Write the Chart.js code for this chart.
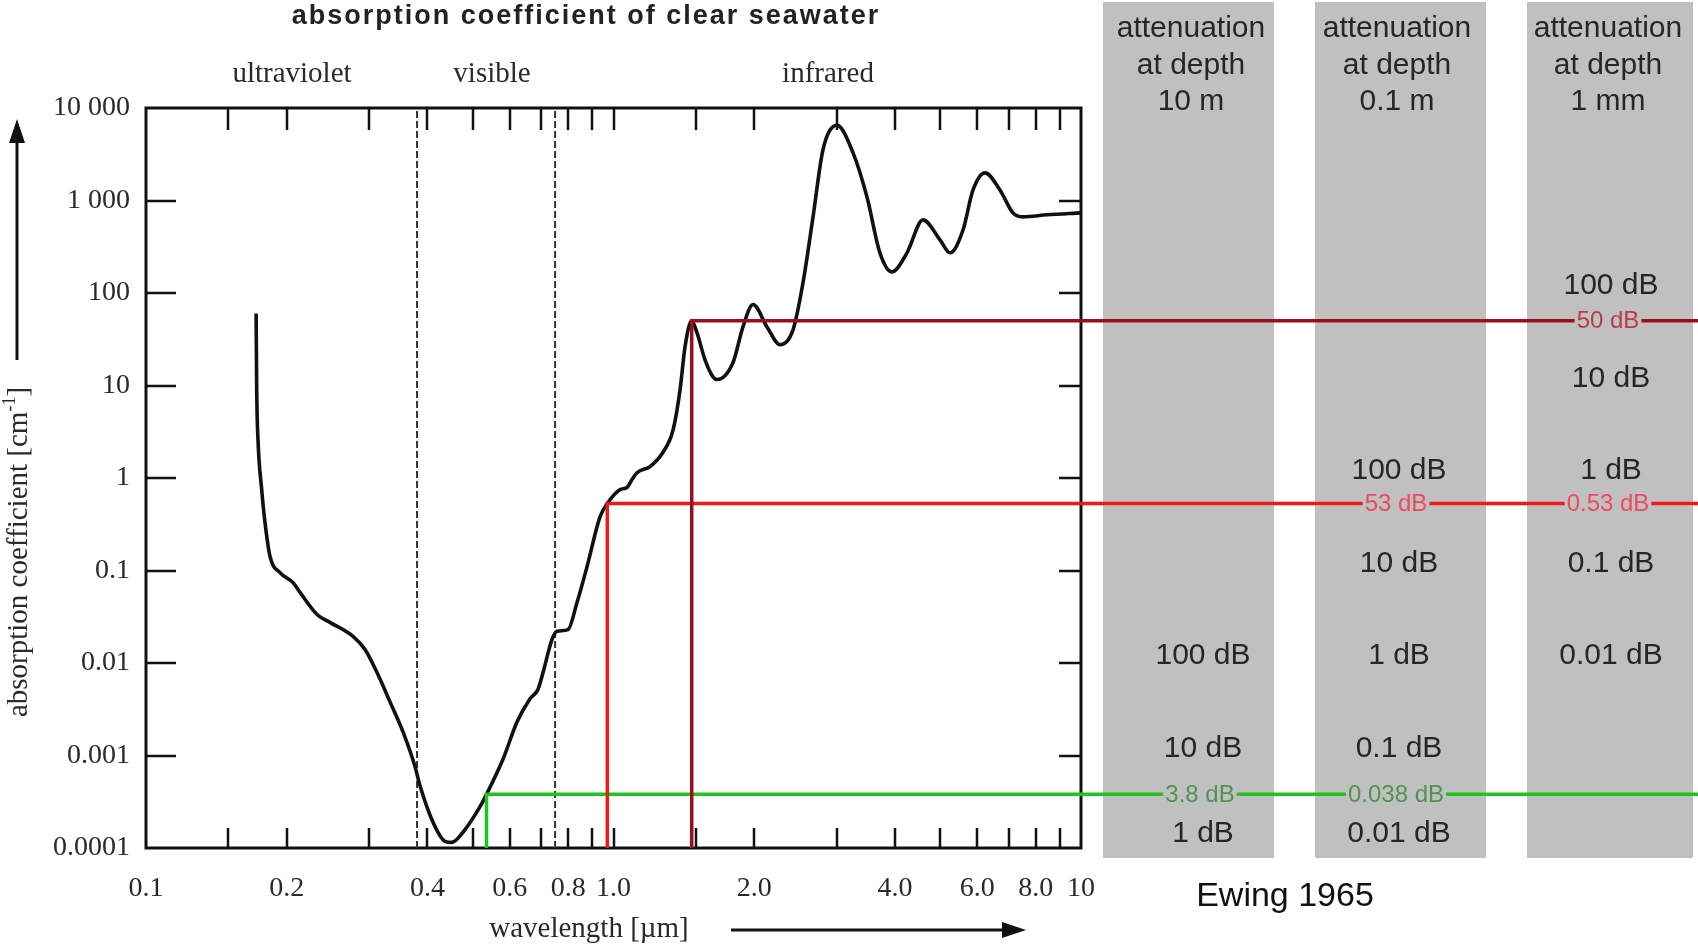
<!DOCTYPE html>
<html>
<head>
<meta charset="utf-8">
<title>absorption coefficient of clear seawater</title>
<script src="https://cdn.jsdelivr.net/npm/chart.js@4/dist/chart.umd.min.js"></script>
<style>
  html, body { margin: 0; padding: 0; background: #fff; }
  #wrap { width: 1698px; height: 945px; position: relative; }
  canvas { display: block; }
</style>
</head>
<body>
<div id="wrap"><canvas id="chart" width="1698" height="945"></canvas></div>
<script>
// Absorption spectrum of clear seawater (Ewing 1965): wavelength in µm, coefficient in cm^-1
const wavelength = [0.172, 0.1725, 0.1736, 0.1768, 0.1797, 0.1842, 0.1935, 0.2063, 0.2135, 0.2322,
  0.2475, 0.2772, 0.2941, 0.312, 0.3326, 0.3546, 0.3762, 0.3856, 0.4111, 0.4361,
  0.4513, 0.4765, 0.5182, 0.535, 0.5802, 0.6217, 0.663, 0.6896, 0.7068, 0.7388,
  0.7572, 0.7993, 0.8355, 0.8777, 0.9357, 0.97, 1.033, 1.069, 1.095, 1.123,
  1.197, 1.276, 1.341, 1.388, 1.422, 1.47, 1.509, 1.569, 1.632, 1.665,
  1.801, 1.892, 1.988, 2.13, 2.271, 2.421, 2.543, 2.672, 2.806, 3.007,
  3.254, 3.485, 3.716, 3.941, 4.244, 4.592, 4.994, 5.246, 5.592, 5.875,
  6.233, 6.708, 7.152, 7.51, 8.458, 10];
const absorption = [60, 9.0, 2.6, 0.75, 0.33, 0.142, 0.095, 0.074, 0.058, 0.0335,
  0.0275, 0.0194, 0.014, 0.0079, 0.0038, 0.0018, 0.00076, 0.00047, 0.00019, 0.000118,
  0.000115, 0.000148, 0.00028, 0.00038, 0.00091, 0.0023, 0.0041, 0.0052, 0.0079, 0.018,
  0.022, 0.023, 0.045, 0.11, 0.38, 0.53, 0.75, 0.79, 0.96, 1.14,
  1.33, 1.9, 3.3, 9, 26, 50, 37, 19, 12.4, 11.6,
  17.6, 43, 75, 43, 27.6, 40, 129, 665, 3540, 6500,
  3270, 1090, 270, 169, 272, 617, 375, 272, 480, 1300,
  1990, 1300, 735, 665, 700, 735];

// Axis ticks
const xTickValues = [0.1, 0.2, 0.4, 0.6, 0.8, 1, 2, 4, 6, 8, 10];
const xTickLabels = ['0.1', '0.2', '0.4', '0.6', '0.8', '1.0', '2.0', '4.0', '6.0', '8.0', '10'];
const xMinorTicks = [0.15, 0.2, 0.3, 0.4, 0.5, 0.6, 0.7, 0.8, 0.9, 1, 1.5, 2, 3, 4, 5, 6, 7, 8, 9];
const yTickValues = [10000, 1000, 100, 10, 1, 0.1, 0.01, 0.001, 0.0001];
const yTickLabels = ['10 000', '1 000', '100', '10', '1', '0.1', '0.01', '0.001', '0.0001'];

// Visible band limits (µm) and band names
const visibleBounds = [0.38, 0.75];
const regionNames = ['ultraviolet', 'visible', 'infrared'];

// Attenuation columns: depth names, depth in cm, scale marks in dB
const depthNames = ['10 m', '0.1 m', '1 mm'];
const depthCm = [1000, 10, 0.1];
const scaleDb = [[100, 10, 1], [100, 10, 1, 0.1, 0.01], [100, 10, 1, 0.1, 0.01]];

// Marked wavelengths: green light, ~1 µm, 1.47 µm water band
const markerWavelength = [0.535, 0.97, 1.47];
const markerAbsorption = [3.8e-4, 0.53, 50];
const markerColors = ['#20c420', '#ee1a1a', '#9b0f1c'];
const markerLabelColors = ['#4f9550', '#ef4860', '#b83c4e'];
const markerLabels = [['3.8 dB', '0.038 dB', null], [null, '53 dB', '0.53 dB'], [null, null, '50 dB']];

const SERIF = '"Liberation Serif", "Times New Roman", serif';
const SANS = '"Liberation Sans", Arial, sans-serif';
const X_FAR = 250; // beyond the right edge of the page

const COLS = [
  { left: 1103, width: 171, head: 1191, label: 1203 },
  { left: 1315, width: 171, head: 1397, label: 1399 },
  { left: 1527, width: 166, head: 1608, label: 1611 }
];

function arrow(ctx, x1, y1, x2, y2, head, half) {
  const ang = Math.atan2(y2 - y1, x2 - x1);
  const bx = x2 - head * Math.cos(ang), by = y2 - head * Math.sin(ang);
  ctx.beginPath(); ctx.moveTo(x1, y1); ctx.lineTo(bx, by); ctx.stroke();
  ctx.beginPath();
  ctx.moveTo(x2, y2);
  ctx.lineTo(bx + half * Math.sin(ang), by - half * Math.cos(ang));
  ctx.lineTo(bx - half * Math.sin(ang), by + half * Math.cos(ang));
  ctx.closePath(); ctx.fill();
}

const decor = {
  id: 'decor',
  beforeDraw(chart) {
    const ctx = chart.ctx;
    const ys = chart.scales.y;
    ctx.save();
    // attenuation columns
    ctx.fillStyle = '#c0c0c0';
    COLS.forEach(c => ctx.fillRect(c.left, 2, c.width, 856));
    ctx.fillStyle = '#262626';
    ctx.font = '30px ' + SANS;
    ctx.textAlign = 'center';
    ctx.textBaseline = 'alphabetic';
    COLS.forEach((c, i) => {
      ctx.fillText('attenuation', c.head, 37);
      ctx.fillText('at depth', c.head, 74);
      ctx.fillText(depthNames[i], c.head, 110);
    });
    ctx.textBaseline = 'middle';
    scaleDb.forEach((list, i) => list.forEach(db => {
      const a = db / (10 * depthCm[i]);
      const py = ys.getPixelForValue(a) - (a <= 1e-4 ? 14 : 7);
      ctx.fillText(db + ' dB', COLS[i].label, py);
    }));

    // title
    ctx.fillStyle = '#222';
    ctx.font = 'bold 27px ' + SANS;
    if ('letterSpacing' in ctx) ctx.letterSpacing = '2px';
    ctx.fillText('absorption coefficient of clear seawater', 586, 17);
    if ('letterSpacing' in ctx) ctx.letterSpacing = '0px';

    // spectral bands
    ctx.font = '29px ' + SERIF;
    ctx.fillStyle = '#2a2a2a';
    [292, 492, 828].forEach((x, i) => ctx.fillText(regionNames[i], x, 74));

    // x axis title and arrow
    ctx.fillText('wavelength [µm]', 589, 929);
    ctx.strokeStyle = '#111'; ctx.fillStyle = '#111'; ctx.lineWidth = 3;
    arrow(ctx, 731, 930, 1026, 930, 24, 8);

    // y axis title and arrow
    ctx.save();
    ctx.translate(19, 552);
    ctx.rotate(-Math.PI / 2);
    ctx.fillStyle = '#2a2a2a';
    ctx.textAlign = 'left';
    const big = '29px ' + SERIF, small = '18px ' + SERIF;
    ctx.font = big;
    const t1 = 'absorption coefficient [cm', t3 = ']';
    const w1 = ctx.measureText(t1).width, w3 = ctx.measureText(t3).width;
    ctx.font = small;
    const w2 = ctx.measureText('-1').width;
    let x0 = -(w1 + w2 + w3) / 2;
    ctx.font = big; ctx.fillText(t1, x0, 0);
    ctx.font = small; ctx.fillText('-1', x0 + w1, -9);
    ctx.font = big; ctx.fillText(t3, x0 + w1 + w2, 0);
    ctx.restore();
    ctx.strokeStyle = '#111'; ctx.fillStyle = '#111'; ctx.lineWidth = 3;
    arrow(ctx, 17, 360, 17, 119, 24, 8);

    // source
    ctx.fillStyle = '#111';
    ctx.font = '34px ' + SANS;
    ctx.textAlign = 'center';
    ctx.fillText('Ewing 1965', 1285, 897);
    ctx.restore();
  },
  beforeDatasetsDraw(chart) {
    const ctx = chart.ctx;
    const { left, right, top, bottom } = chart.chartArea;
    const xs = chart.scales.x, ys = chart.scales.y;
    ctx.save();
    ctx.strokeStyle = '#111';
    ctx.lineWidth = 3;
    ctx.strokeRect(left, top, right - left, bottom - top);
    ctx.lineWidth = 2.5;
    ctx.beginPath();
    xMinorTicks.forEach(v => {
      const px = Math.round(xs.getPixelForValue(v));
      ctx.moveTo(px, top); ctx.lineTo(px, top + 22);
      ctx.moveTo(px, bottom); ctx.lineTo(px, bottom - 20);
    });
    yTickValues.slice(1, -1).forEach(v => {
      const py = Math.round(ys.getPixelForValue(v));
      ctx.moveTo(left, py); ctx.lineTo(left + 30, py);
      ctx.moveTo(right, py); ctx.lineTo(right - 22, py);
    });
    ctx.stroke();
    ctx.restore();
  },
  afterDatasetsDraw(chart) {
    const ctx = chart.ctx;
    const ys = chart.scales.y;
    ctx.save();
    ctx.font = '24px ' + SANS;
    ctx.textAlign = 'center';
    ctx.textBaseline = 'middle';
    markerLabels.forEach((row, m) => row.forEach((txt, i) => {
      if (!txt) return;
      const py = ys.getPixelForValue(markerAbsorption[m]);
      const w = ctx.measureText(txt).width;
      const cx = COLS[i].label - 3;
      ctx.fillStyle = '#c0c0c0';
      ctx.fillRect(cx - w / 2 - 2, py - 12, w + 4, 24);
      ctx.fillStyle = markerLabelColors[m];
      ctx.fillText(txt, cx, py + 1);
    }));
    ctx.restore();
  }
};

const curve = wavelength.map((x, i) => ({ x, y: absorption[i] }));

const markerSets = markerWavelength.map((w, i) => ({
  data: [{ x: w, y: 1e-4 }, { x: w, y: markerAbsorption[i] }, { x: X_FAR, y: markerAbsorption[i] }],
  borderColor: markerColors[i],
  borderWidth: 3.5,
  pointRadius: 0,
  tension: 0,
  clip: false
}));

const boundSets = visibleBounds.map(w => ({
  data: [{ x: w, y: 1e-4 }, { x: w, y: 1e4 }],
  borderColor: '#333',
  borderWidth: 2,
  borderDash: [7, 3],
  pointRadius: 0,
  tension: 0
}));

new Chart(document.getElementById('chart'), {
  type: 'line',
  data: {
    datasets: [
      ...markerSets.reverse(),
      {
        data: curve,
        borderColor: '#111',
        borderWidth: 3.6,
        pointRadius: 0,
        cubicInterpolationMode: 'monotone',
        clip: 4
      },
      ...boundSets
    ]
  },
  options: {
    responsive: false,
    animation: false,
    events: [],
    layout: { padding: { left: 0, right: 617, top: 108, bottom: 0 } },
    plugins: { legend: { display: false }, tooltip: { enabled: false }, title: { display: false } },
    scales: {
      x: {
        type: 'logarithmic',
        min: 0.1,
        max: 10,
        grid: { display: false },
        border: { display: false },
        afterBuildTicks: s => { s.ticks = xTickValues.map(v => ({ value: v })); },
        afterFit: s => { s.height = 97; },
        ticks: {
          autoSkip: false,
          maxRotation: 0,
          padding: 16,
          color: '#2a2a2a',
          font: { family: 'Liberation Serif', size: 28 },
          callback: v => xTickLabels[xTickValues.indexOf(v)]
        }
      },
      y: {
        type: 'logarithmic',
        min: 0.0001,
        max: 10000,
        grid: { display: false, drawTicks: false },
        border: { display: false },
        afterBuildTicks: s => { s.ticks = yTickValues.map(v => ({ value: v })); },
        afterFit: s => { s.width = 146; },
        ticks: {
          autoSkip: false,
          padding: 16,
          color: '#2a2a2a',
          font: { family: 'Liberation Serif', size: 28 },
          callback: v => yTickLabels[yTickValues.indexOf(v)]
        }
      }
    }
  },
  plugins: [decor]
});
</script>
</body>
</html>
